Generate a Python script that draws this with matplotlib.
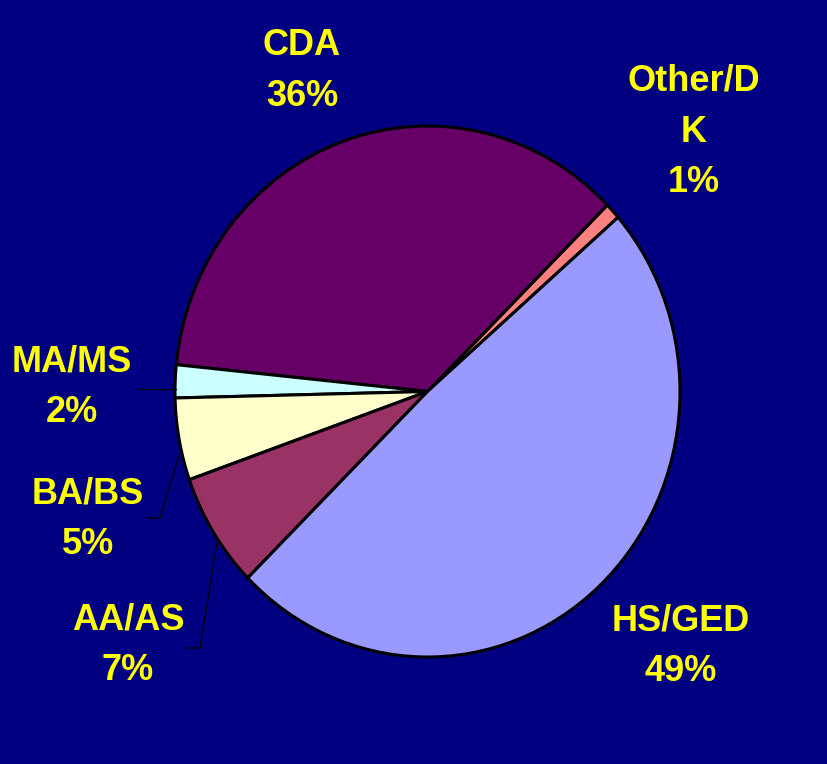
import numpy as np
import matplotlib.pyplot as plt

# Education levels, counterclockwise from the small "Other/DK" wedge
categories = ['Other/DK', 'CDA', 'MA/MS', 'BA/BS', 'AA/AS', 'HS/GED']
shares = [1, 36, 2, 5, 7, 49]
colors = ['#FF8080', '#660066', '#CCFFFF', '#FFFFCC', '#993366', '#9999FF']
label_text = ['Other/D\nK', 'CDA', 'MA/MS', 'BA/BS', 'AA/AS', 'HS/GED']

W, H = 828, 764
cx, cy = 427.5, 391.5   # pie centre in pixels
rx, ry = 252.5, 265.5   # the pie is slightly taller than wide

fig = plt.figure(figsize=(W / 100, H / 100), dpi=100)
fig.patch.set_facecolor('#000080')
ax = fig.add_axes([0, 0, 1, 1])
ax.set_facecolor('#000080')

ax.pie(shares, colors=colors, startangle=41, counterclock=True,
       radius=1, center=(0, 0), frame=True,
       wedgeprops=dict(edgecolor='black', linewidth=2.2))
ax.set_aspect('auto')
ax.set_xlim(-cx / rx, (W - cx) / rx)
ax.set_ylim(-(H - cy) / ry, cy / ry)
ax.axis('off')


def px(x, y):
    return (x - cx) / rx, (cy - y) / ry


# label anchor (pixel centre of the text block)
label_pos = {
    'Other/DK': (694, 132),
    'CDA': (302, 71),
    'MA/MS': (72, 387),
    'BA/BS': (88, 519),
    'AA/AS': (128, 645),
    'HS/GED': (681, 646),
}

for cat, txt, val in zip(categories, label_text, shares):
    x, y = px(*label_pos[cat])
    ax.text(x, y, f'{txt}\n{val}%', color='#FFFF00', fontsize=26,
            fontweight='bold', family='Liberation Sans', ha='center',
            va='center', linespacing=1.58)

# leader lines for the thin wedges on the left
leaders = [
    [(138, 389), (176, 389)],
    [(147, 518), (160, 518), (180, 452)],
    [(187, 648), (200, 648), (217, 543)],
]
for pts in leaders:
    xs, ys = zip(*[px(*p) for p in pts])
    ax.plot(xs, ys, color='black', linewidth=0.9)

fig.savefig('out.png', dpi=100, facecolor=fig.get_facecolor())
